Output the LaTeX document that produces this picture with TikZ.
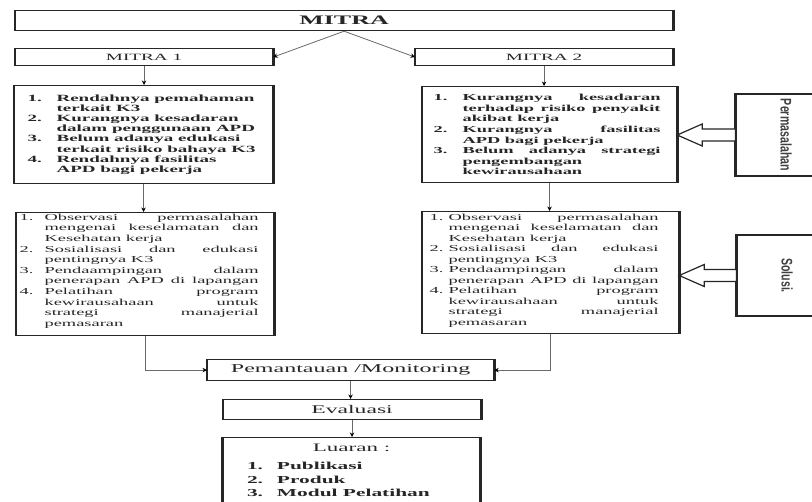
\documentclass[tikz,border=0pt]{standalone}
\usepackage{fontspec}
\setmainfont{Liberation Serif}
\newfontfamily\widefnt[FakeStretch=2]{Liberation Serif}
\newfontfamily\narfnt[FakeStretch=0.69]{Liberation Sans}
\usetikzlibrary{arrows.meta,calc}
\newlength\NW
\newlength\TW
\newcommand\jl[2]{\makebox[\NW][l]{#1}\makebox[\TW][s]{#2}\par}
\newcommand\rl[2]{\makebox[\NW][l]{#1}#2\par}
\newcommand\lst[4]{\parbox{#1}{\setlength\NW{#2}\setlength\TW{#3}\raggedright #4}}
\definecolor{txt}{HTML}{262626}
\definecolor{lin}{HTML}{6A6A6A}
\begin{document}
\begin{tikzpicture}[x=1pt,y=-1pt,
  box/.style={draw=black!85, line width=1.2pt, rectangle, inner sep=0pt, text=txt, anchor=north west},
  side/.style={line width=2.6pt, black!85},
  conn/.style={draw=lin, line width=0.8pt, -{Stealth[length=4.5pt,width=4.5pt,color=black]}},
  hollow/.style={draw=black!85, line width=1.2pt, fill=white, line join=miter},
  rottext/.style={draw=black!85, line width=1.2pt, rectangle, inner sep=0pt, text=black!75, font=\narfnt\bfseries\fontsize{15.4}{16}\selectfont, rotate=-90}
]
\useasboundingbox (0,0) rectangle (812,502);
\clip (0,0) rectangle (812,502);
\fill[white] (0,0) rectangle (812,502);

% top boxes
\node[box, minimum width=657, minimum height=20, font=\widefnt\bfseries\fontsize{13}{13}\selectfont] (mitra) at (15,10) {MITRA};
\node[box, minimum width=257, minimum height=17, font=\widefnt\fontsize{9.6}{10}\selectfont] (m1) at (15,48) {MITRA 1};
\node[box, minimum width=257, minimum height=17, font=\widefnt\fontsize{9.6}{10}\selectfont] (m2) at (415,48) {MITRA 2};

% problem boxes
\node[box, minimum width=258, minimum height=98, font=\widefnt\bfseries\fontsize{9.5}{10.2}\selectfont] (l1) at (14,85) {\lst{232pt}{29pt}{204pt}{%
\rl{1.}{Rendahnya pemahaman}
\rl{}{terkait K3}
\rl{2.}{Kurangnya kesadaran}
\rl{}{dalam penggunaan APD}
\rl{3.}{Belum adanya edukasi}
\rl{}{terkait risiko bahaya K3}
\rl{4.}{Rendahnya fasilitas}
\rl{}{APD bagi pekerja}}};

\node[box, minimum width=254, minimum height=96, font=\widefnt\bfseries\fontsize{9.2}{10.6}\selectfont] (r1) at (422,86) {\lst{232pt}{29pt}{198pt}{%
\jl{1.}{Kurangnya kesadaran}
\jl{}{terhadap risiko penyakit}
\rl{}{akibat kerja}
\jl{2.}{Kurangnya fasilitas}
\rl{}{APD bagi pekerja}
\jl{3.}{Belum adanya strategi}
\rl{}{pengembangan}
\rl{}{kewirausahaan}}};

% solution boxes
\node[box, minimum width=257, minimum height=123, font=\widefnt\fontsize{9.2}{10.6}\selectfont] (l2) at (16,212) {\lst{251pt}{25pt}{214pt}{%
\jl{1.}{Observasi permasalahan}
\jl{}{mengenai keselamatan dan}
\rl{}{Kesehatan kerja}
\jl{2.}{Sosialisasi dan edukasi}
\rl{}{pentingnya K3}
\jl{3.}{Pendaampingan dalam}
\jl{}{penerapan APD di lapangan}
\jl{4.}{Pelatihan program}
\jl{}{kewirausahaan untuk}
\jl{}{strategi manajerial}
\rl{}{pemasaran}\vspace*{6pt}}};

\node[box, minimum width=256, minimum height=122, font=\widefnt\fontsize{9.2}{10.5}\selectfont] (r2) at (422,211) {\lst{242pt}{19pt}{210pt}{%
\jl{1.}{Observasi permasalahan}
\jl{}{mengenai keselamatan dan}
\rl{}{Kesehatan kerja}
\jl{2.}{Sosialisasi dan edukasi}
\rl{}{pentingnya K3}
\jl{3.}{Pendaampingan dalam}
\jl{}{penerapan APD di lapangan}
\jl{4.}{Pelatihan program}
\jl{}{kewirausahaan untuk}
\jl{}{strategi manajerial}
\rl{}{pemasaran}\vspace*{4pt}}};

% side boxes
\node[rottext, minimum width=82, minimum height=100] (perm) at (786,135) {Permasalahan};
\node[rottext, minimum width=81, minimum height=100] (sol) at (787,275.5) {Solusi.};

% lower boxes
\node[box, minimum width=286, minimum height=21, font=\widefnt\fontsize{12}{12}\selectfont] (pem) at (207,359) {Pemantauan /Monitoring};
\node[box, minimum width=257, minimum height=20, font=\widefnt\fontsize{11.8}{12}\selectfont] (eva) at (223,399) {Evaluasi};
\node[box, anchor=north, minimum width=257, inner ysep=6pt, font=\widefnt\fontsize{11.5}{12}\selectfont] (lua) at (351.5,437) {\parbox{257pt}{\centering Luaran :\par\vspace{5pt}
\raggedright\widefnt\bfseries\fontsize{10.7}{13.5}\selectfont
\hspace*{24pt}\makebox[30pt][l]{1.}Publikasi\par
\hspace*{24pt}\makebox[30pt][l]{2.}Produk\par
\hspace*{24pt}\makebox[30pt][l]{3.}Modul Pelatihan\par\vspace*{14pt}}};

% thick vertical sides
\foreach \n in {mitra,m1,m2,l1,r1,l2,r2,pem,eva,lua}{
  \draw[side] (\n.north west) -- (\n.south west) (\n.north east) -- (\n.south east);
}
\foreach \n in {perm,sol}{
  \draw[side] (\n.south west) -- (\n.south east);
}

% connectors
\draw[conn] (mitra.south) -- (m1.east);
\draw[conn] (mitra.south) -- (m2.west);
\draw[conn] (m1.south) -- (m1.south |- l1.north);
\draw[conn] (l1.south) -- (l1.south |- l2.north);
\draw[conn] (m2.south) -- (m2.south |- r1.north);
\draw[conn] (r1.south) -- (r1.south |- r2.north);
\draw[conn] (l2.south) |- (pem.west);
\draw[conn] (r2.south) |- (pem.east);
\draw[conn] (pem.south) -- (pem.south |- eva.north);
\draw[conn] (eva.south) -- (eva.south |- lua.north);

% hollow arrows
\coordinate (pt) at (r1.east |- perm.south);
\draw[hollow] (pt) -- ($(pt)+(25,-11)$) -- ($(pt)+(25,-6)$) -- ($(perm.south)+(0,-6)$) -- ($(perm.south)+(0,6)$) -- ($(pt)+(25,6)$) -- ($(pt)+(25,11)$) -- cycle;
\coordinate (st) at (r2.east |- sol.south);
\draw[hollow] (st) -- ($(st)+(25,-11)$) -- ($(st)+(25,-6)$) -- ($(sol.south)+(0,-6)$) -- ($(sol.south)+(0,6)$) -- ($(st)+(25,6)$) -- ($(st)+(25,11)$) -- cycle;
\end{tikzpicture}
\end{document}
